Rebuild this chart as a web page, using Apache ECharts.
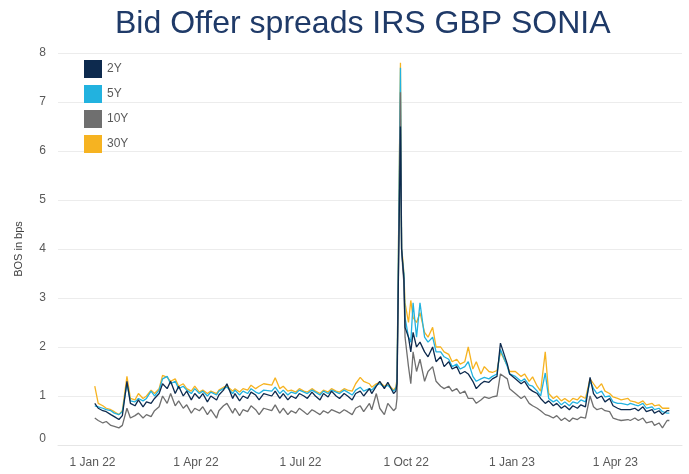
<!DOCTYPE html>
<html>
<head>
<meta charset="utf-8">
<script src="https://cdn.jsdelivr.net/npm/echarts@6/dist/echarts.min.js"></script>
<style>html,body{margin:0;padding:0;background:#fff}#c{width:689px;height:474px}</style>
</head>
<body>
<div id="c"></div>
<script>
const dates = [
"2022-01-03","2022-01-06","2022-01-10","2022-01-13","2022-01-17","2022-01-20","2022-01-24","2022-01-27","2022-01-31","2022-02-03",
"2022-02-07","2022-02-10","2022-02-14","2022-02-17","2022-02-21","2022-02-24","2022-02-28","2022-03-03","2022-03-07","2022-03-10",
"2022-03-14","2022-03-17","2022-03-21","2022-03-24","2022-03-28","2022-03-31","2022-04-04","2022-04-07","2022-04-11","2022-04-14",
"2022-04-19","2022-04-21","2022-04-25","2022-04-28","2022-05-03","2022-05-05","2022-05-09","2022-05-12","2022-05-16","2022-05-19",
"2022-05-23","2022-05-26","2022-05-30","2022-06-06","2022-06-09","2022-06-13","2022-06-16","2022-06-20","2022-06-23","2022-06-27",
"2022-06-30","2022-07-04","2022-07-07","2022-07-11","2022-07-14","2022-07-18","2022-07-21","2022-07-25","2022-07-28","2022-08-01",
"2022-08-04","2022-08-08","2022-08-11","2022-08-15","2022-08-18","2022-08-22","2022-08-25","2022-08-30","2022-09-01","2022-09-05",
"2022-09-08","2022-09-12","2022-09-15","2022-09-20","2022-09-22","2022-09-23","2022-09-26","2022-09-27","2022-09-28","2022-09-29",
"2022-09-30","2022-10-03","2022-10-05","2022-10-07","2022-10-10","2022-10-13","2022-10-17","2022-10-20","2022-10-24","2022-10-27",
"2022-10-31","2022-11-03","2022-11-07","2022-11-10","2022-11-14","2022-11-17","2022-11-21","2022-11-24","2022-11-28","2022-12-01",
"2022-12-05","2022-12-08","2022-12-12","2022-12-15","2022-12-19","2022-12-22","2022-12-28","2022-12-30","2023-01-04","2023-01-09",
"2023-01-12","2023-01-16","2023-01-19","2023-01-23","2023-01-26","2023-01-30","2023-02-02","2023-02-06","2023-02-09","2023-02-13",
"2023-02-16","2023-02-20","2023-02-23","2023-02-27","2023-03-02","2023-03-06","2023-03-10","2023-03-13","2023-03-16","2023-03-20",
"2023-03-23","2023-03-27","2023-03-30","2023-04-03","2023-04-06","2023-04-12","2023-04-14","2023-04-18","2023-04-21","2023-04-25",
"2023-04-28","2023-05-03","2023-05-05","2023-05-09","2023-05-12","2023-05-16","2023-05-18"
];

const y2 = [
0.85,0.75,0.70,0.68,0.62,0.58,0.52,0.60,1.30,0.85,
0.80,0.92,0.78,0.88,0.85,0.95,1.05,1.25,1.15,1.30,
1.05,1.20,1.00,1.10,0.92,1.05,0.95,1.05,0.88,1.00,
0.92,1.02,1.12,1.25,0.95,1.05,0.90,1.00,0.95,1.08,
1.02,0.92,1.05,1.00,1.10,0.95,1.05,0.92,1.00,0.95,
1.05,1.00,0.95,1.08,1.00,0.92,1.05,0.98,1.10,1.00,
0.95,1.05,1.00,0.92,1.05,1.10,1.00,1.15,1.05,1.20,
1.30,1.15,1.28,1.05,1.10,1.25,6.50,4.00,3.70,3.40,
2.40,2.20,1.90,2.30,2.00,2.10,1.90,1.80,2.00,1.70,
1.80,1.60,1.70,1.55,1.60,1.45,1.50,1.45,1.30,1.15,
1.25,1.30,1.28,1.35,1.40,2.08,1.65,1.45,1.35,1.25,
1.30,1.15,1.10,1.05,0.95,0.85,0.90,0.80,0.85,0.75,
0.80,0.72,0.80,0.75,0.82,0.78,1.38,1.05,0.95,1.00,
0.88,0.95,0.80,0.75,0.72,0.72,0.72,0.75,0.70,0.78,
0.68,0.72,0.65,0.70,0.62,0.70,0.70
];

const y5 = [
0.80,0.78,0.75,0.72,0.70,0.65,0.62,0.68,1.25,0.90,
0.88,0.95,0.90,0.95,1.10,1.00,1.12,1.35,1.40,1.25,
1.30,1.15,1.20,1.12,1.05,1.15,1.05,1.10,1.00,1.08,
1.02,1.10,1.15,1.18,1.05,1.12,1.02,1.10,1.05,1.15,
1.08,1.05,1.12,1.10,1.18,1.05,1.12,1.02,1.08,1.05,
1.12,1.08,1.05,1.12,1.08,1.02,1.10,1.05,1.12,1.08,
1.05,1.12,1.08,1.02,1.12,1.18,1.10,1.15,1.12,1.22,
1.25,1.18,1.22,1.10,1.15,1.30,7.70,4.00,3.70,3.50,
2.60,2.20,2.10,2.90,2.20,2.90,2.20,2.10,2.20,1.90,
1.90,1.80,1.75,1.60,1.65,1.55,1.60,1.70,1.40,1.30,
1.35,1.38,1.35,1.40,1.45,1.95,1.60,1.45,1.40,1.30,
1.35,1.22,1.20,1.10,1.00,1.47,0.95,0.88,0.92,0.82,
0.88,0.80,0.88,0.85,0.92,0.88,1.30,1.15,1.05,1.10,
0.98,1.00,0.88,0.85,0.85,0.82,0.85,0.82,0.80,0.85,
0.75,0.78,0.72,0.75,0.68,0.65,0.65
];

const y10 = [
0.55,0.50,0.45,0.48,0.40,0.38,0.35,0.40,0.75,0.55,
0.60,0.65,0.55,0.62,0.58,0.70,0.78,1.00,0.85,1.05,
0.80,0.90,0.75,0.82,0.65,0.75,0.70,0.78,0.62,0.72,
0.55,0.70,0.80,0.85,0.65,0.75,0.60,0.72,0.68,0.80,
0.72,0.62,0.75,0.70,0.82,0.65,0.75,0.62,0.70,0.65,
0.75,0.68,0.62,0.72,0.68,0.62,0.70,0.65,0.72,0.68,
0.65,0.72,0.68,0.62,0.75,0.80,0.68,0.85,0.72,1.05,
0.75,0.62,0.85,0.70,0.75,0.95,7.20,4.00,3.60,3.30,
2.20,1.60,1.25,1.90,1.50,1.75,1.30,1.50,1.60,1.30,
1.20,1.15,1.20,1.10,1.15,1.05,1.10,0.95,0.95,0.85,
0.92,0.98,0.95,0.98,1.00,1.45,1.35,1.15,1.05,0.95,
1.00,0.85,0.80,0.75,0.70,0.62,0.60,0.55,0.60,0.50,
0.55,0.48,0.55,0.52,0.57,0.55,1.00,0.78,0.72,0.75,
0.70,0.68,0.55,0.52,0.50,0.52,0.50,0.55,0.50,0.55,
0.45,0.48,0.40,0.45,0.35,0.50,0.50
];

const y30 = [
1.20,0.85,0.80,0.75,0.72,0.68,0.62,0.70,1.40,0.95,
0.92,1.05,0.95,1.00,1.12,1.05,1.15,1.42,1.38,1.30,
1.35,1.20,1.25,1.15,1.10,1.20,1.08,1.12,1.05,1.10,
1.05,1.12,1.18,1.20,1.10,1.15,1.08,1.15,1.12,1.22,
1.15,1.20,1.25,1.22,1.37,1.15,1.20,1.10,1.12,1.08,
1.15,1.10,1.08,1.15,1.10,1.05,1.12,1.08,1.15,1.10,
1.08,1.15,1.12,1.10,1.25,1.38,1.30,1.25,1.18,1.25,
1.28,1.20,1.25,1.12,1.18,1.35,7.80,4.00,3.80,3.50,
2.90,2.50,2.95,2.60,2.50,2.70,2.30,2.20,2.40,2.00,
2.00,1.90,1.85,1.70,1.75,1.65,1.70,2.00,1.55,1.70,
1.45,1.60,1.50,1.48,1.52,1.90,1.62,1.50,1.50,1.40,
1.45,1.30,1.39,1.20,1.10,1.90,1.05,0.95,1.00,0.90,
0.95,0.88,0.95,0.92,1.00,0.95,1.35,1.25,1.15,1.25,
1.10,1.05,0.98,0.95,0.92,0.95,0.90,0.88,0.85,0.90,
0.82,0.85,0.80,0.82,0.75,0.75,0.75
];

const yTicks = [0,1,2,3,4,5,6,7,8];
const xTickDates = ["2022-01-01","2022-04-01","2022-07-01","2022-10-01","2023-01-01","2023-04-01"];
const xTickLabels = ["1 Jan 22","1 Apr 22","1 Jul 22","1 Oct 22","1 Jan 23","1 Apr 23"];

const colors = {"2Y":"#0d2a4e","5Y":"#22b2df","10Y":"#6f6f6f","30Y":"#f6b321"};
function ts(d){ return Date.UTC(+d.slice(0,4), +d.slice(5,7)-1, +d.slice(8,10)); }
function pairs(v){ return dates.map((d,i)=>[ts(d), v[i]]); }
const xTickTs = xTickDates.map(ts);
const labelMap = {};
xTickTs.forEach((t,i)=>{ labelMap[t] = xTickLabels[i]; });

const chart = echarts.init(document.getElementById('c'));
function mk(name, v){
  return {name:name, type:'line', data:pairs(v), showSymbol:false, symbol:'none',
    lineStyle:{width:1.3, color:colors[name]}, itemStyle:{color:colors[name]}, animation:false};
}
chart.setOption({
  animation:false,
  textStyle:{fontFamily:'Liberation Sans, Arial, sans-serif'},
  title:{text:'Bid Offer spreads IRS GBP SONIA', left:110, top:3,
    textStyle:{fontSize:32, fontWeight:'normal', color:'#1f3a68', fontFamily:'Liberation Sans, Arial, sans-serif'}},
  legend:{data:['2Y','5Y','10Y','30Y'], orient:'vertical', left:79, top:55, icon:'rect',
    itemWidth:18, itemHeight:18, itemGap:7,
    textStyle:{fontSize:12, color:'#595959'}},
  grid:{left:58, right:7, top:53, bottom:29},
  xAxis:{type:'value', min:ts('2021-12-02'), max:ts('2023-05-29'), scale:true,
    axisLine:{show:true, lineStyle:{color:'#e6e6e6'}}, axisTick:{show:false}, splitLine:{show:false},
    axisLabel:{customValues:xTickTs, formatter:function(v){ return labelMap[v] || ''; }, color:'#595959', fontSize:12, margin:12}},
  yAxis:{type:'value', min:0, max:8, interval:1, name:'BOS in bps', nameLocation:'middle', nameGap:34,
    nameTextStyle:{fontSize:11, color:'#404040'},
    axisLine:{show:false}, axisTick:{show:false},
    splitLine:{lineStyle:{color:'#ececec'}},
    axisLabel:{color:'#595959', fontSize:12, margin:12, verticalAlignMinLabel:'bottom'}},
  series:[mk('30Y', y30), mk('5Y', y5), mk('10Y', y10), mk('2Y', y2)]
});
</script>
</body>
</html>
